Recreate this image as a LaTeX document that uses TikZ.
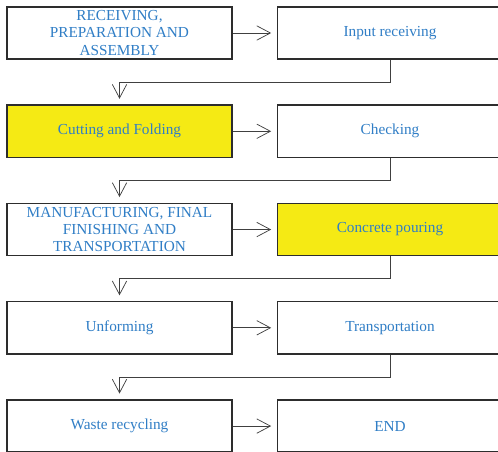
\documentclass[tikz,border=0pt]{standalone}
\usepackage{fontspec}
\setmainfont{Liberation Serif}
\usetikzlibrary{positioning}
\usetikzlibrary{arrows.meta}

\definecolor{stagetext}{RGB}{48,126,198}
\definecolor{stagefill}{RGB}{245,234,20}
\definecolor{boxline}{RGB}{45,45,45}

\begin{document}
\begin{tikzpicture}[
    stage/.style={rectangle, draw=boxline, line width=1.1pt, fill=white,
        minimum width=5.95cm, minimum height=1.38cm, inner sep=0pt,
        align=center, text=stagetext, font=\fontsize{11.5}{13}\selectfont},
    marked/.style={stage, fill=stagefill},
    flow/.style={draw=black!75, line width=0.55pt,
        -{Straight Barb[length=3.6mm,width=3.8mm]}, shorten >=1.5mm}
]

\useasboundingbox (-3.162,0.873) rectangle (10.014,-11.06);

% Left column
\node[stage]  (l1) at (0,0)     {RECEIVING,\\PREPARATION AND\\ASSEMBLY};
\node[marked] (l2) at (0,-2.6)  {Cutting and Folding};
\node[stage]  (l3) at (0,-5.2)  {MANUFACTURING, FINAL\\FINISHING AND\\TRANSPORTATION};
\node[stage]  (l4) at (0,-7.8)  {Unforming};
\node[stage]  (l5) at (0,-10.4) {Waste recycling};

% Right column
\node[stage]  (r1) at (7.157,0)     {Input receiving};
\node[stage]  (r2) at (7.157,-2.6)  {Checking};
\node[marked] (r3) at (7.157,-5.2)  {Concrete pouring};
\node[stage]  (r4) at (7.157,-7.8)  {Transportation};
\node[stage]  (r5) at (7.157,-10.4) {END};

% Left to right in each row
\foreach \i in {1,...,5} {
    \draw[flow] (l\i) -- (r\i);
}

% Right column back down to the next row
\foreach \i/\j in {1/2,2/3,3/4,4/5} {
    \draw[flow] (r\i.south) -- ++(0,-0.59) -| (l\j.north);
}

\end{tikzpicture}
\end{document}
